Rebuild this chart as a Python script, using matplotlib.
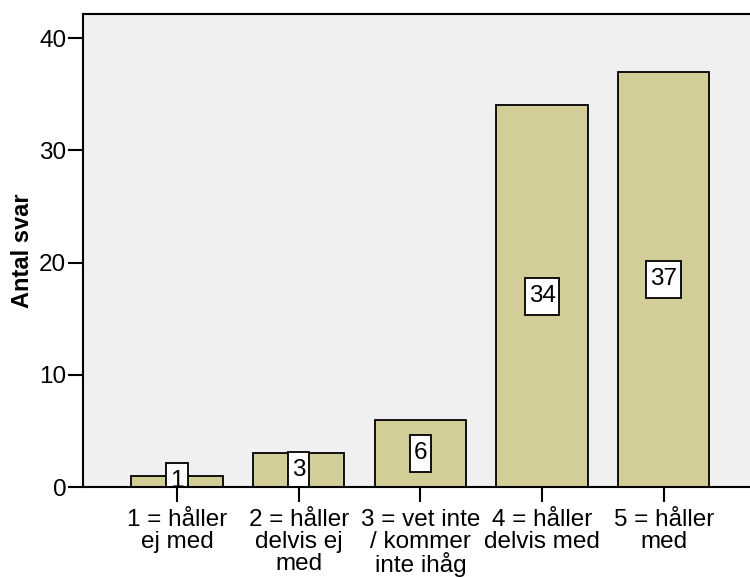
import matplotlib
matplotlib.use("Agg")
import matplotlib.pyplot as plt
from matplotlib.path import Path

plt.rcParams['font.family'] = ['Liberation Sans', 'DejaVu Sans']

categories = ["1 = håller\nej med", "2 = håller\ndelvis ej\nmed", "3 = vet inte\n/ kommer\ninte ihåg",
              "4 = håller\ndelvis med", "5 = håller\nmed"]
values = [1, 3, 6, 34, 37]
yticks = [0, 10, 20, 30, 40]
ylabel = "Antal svar"


def label_box(x0, y0, width, height, mutation_size):
    px = 0.16 * mutation_size
    py = 0.30 * mutation_size
    x0, y0 = x0 - px, y0 - py
    x1, y1 = x0 + width + 2 * px, y0 + height + 2 * py
    return Path([(x0, y0), (x1, y0), (x1, y1), (x0, y1), (x0, y0)], closed=True)


fig = plt.figure(figsize=(7.5, 5.78), dpi=100)
ax = fig.add_axes([83/750, 1-487/578, 1-83/750, (487-14)/578])
ax.set_facecolor('#F0F0F0')

x = list(range(len(values)))
ax.bar(x, values, width=0.75, color='#D3CE97', edgecolor='black', linewidth=1.3, zorder=2)

for xi, v in zip(x, values):
    ax.text(xi, v/2, str(v), ha='center', va='center', fontsize=17.5, zorder=3, clip_on=True,
            bbox=dict(boxstyle=label_box, facecolor='white', edgecolor='black', linewidth=1.3))

ax.set_xlim(-0.772, 4.708)
ax.set_ylim(0, 42.15)
ax.set_yticks(yticks)
ax.set_xticks(x)
ax.set_xticklabels(categories, fontsize=17.5, linespacing=0.98)
ax.tick_params(axis='y', labelsize=17.5, length=11, width=1.5, pad=1)
ax.tick_params(axis='x', length=11, width=1.5, pad=5)
ax.set_ylabel(ylabel, fontsize=17, fontweight='bold', labelpad=4)

for s in ['left', 'bottom', 'top']:
    ax.spines[s].set_linewidth(1.5)
    ax.spines[s].set_zorder(4)
ax.spines['right'].set_visible(False)

fig.savefig('out.png', dpi=100)
